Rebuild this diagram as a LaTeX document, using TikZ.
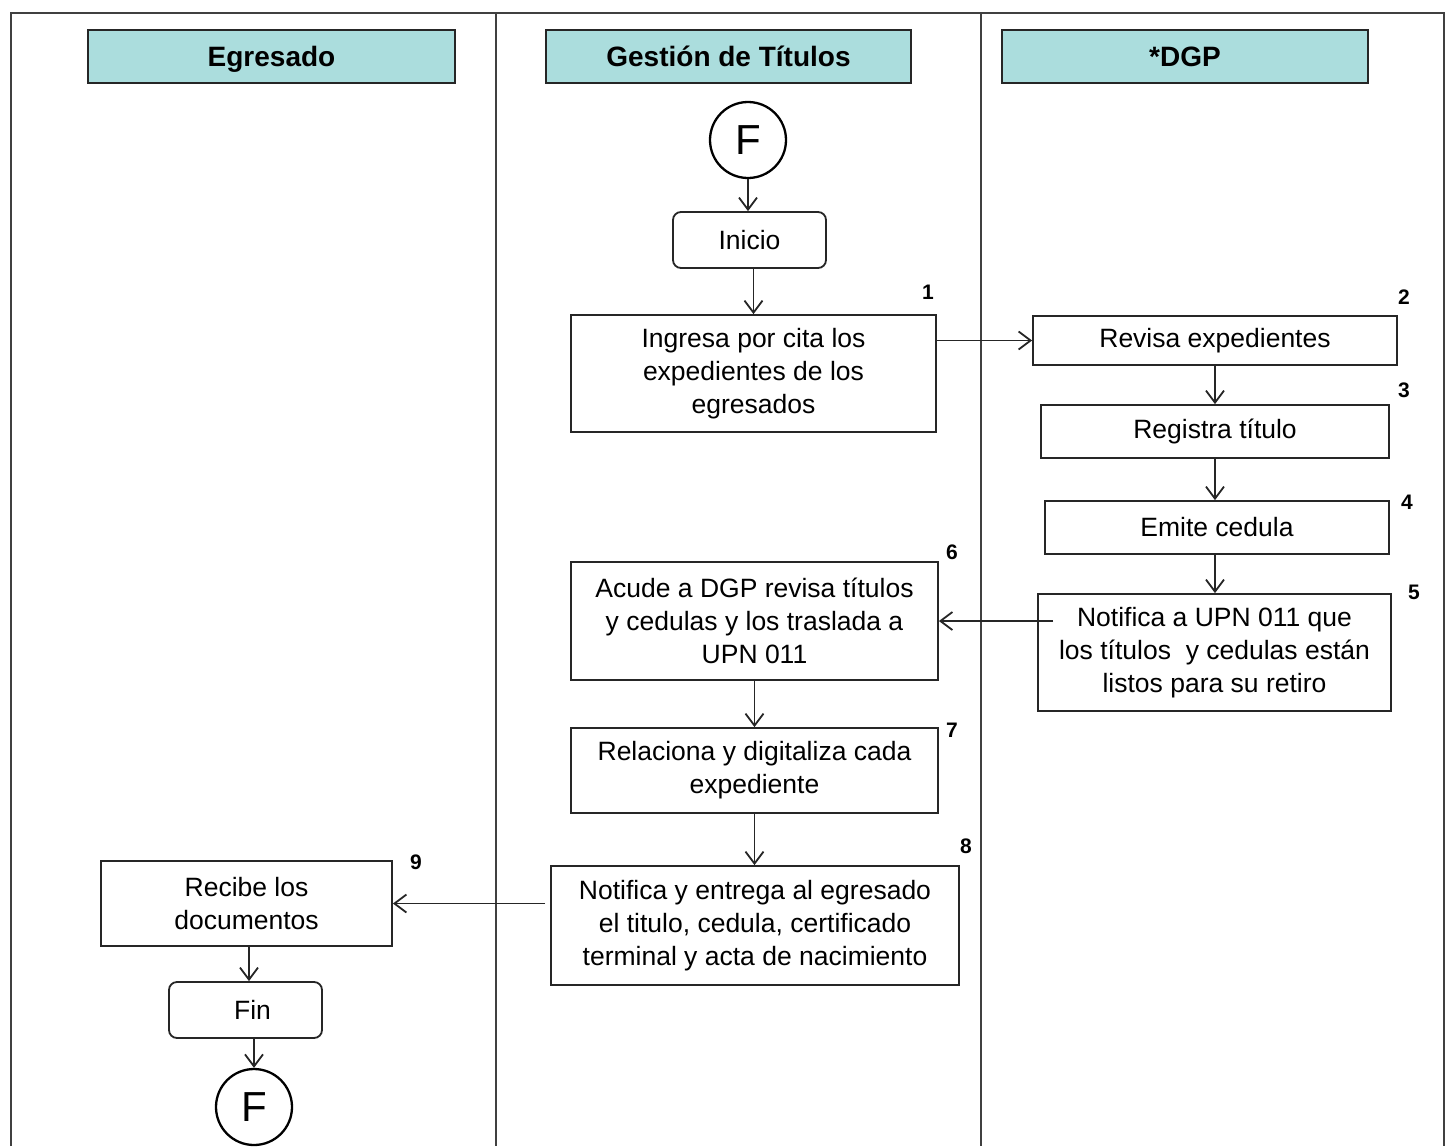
\documentclass[tikz,border=0pt]{standalone}
\usepackage{fontspec}
\setmainfont{Liberation Sans}
\usetikzlibrary{arrows.meta,calc}
\definecolor{lanefill}{RGB}{171,221,221}
\tikzset{
  lane/.style={draw=black!75, line width=1.8pt},
  hdr/.style={draw=black!85, fill=lanefill, line width=1.7pt, minimum height=53pt,
    inner sep=0pt, text height=20pt, text depth=0pt,
    font=\fontsize{28}{32}\selectfont\bfseries},
  task/.style={draw=black!85, line width=1.8pt, inner sep=0pt, align=center,
    font=\fontsize{26.5}{33}\selectfont},
  term/.style={task, rounded corners=8pt},
  circ/.style={circle, draw=black, line width=2.3pt, minimum size=76pt, inner sep=0pt,
    font=\fontsize{42}{42}\selectfont},
  num/.style={font=\fontsize{21}{21}\selectfont\bfseries, inner sep=0pt},
  arr/.style={draw=black!85, line width=1.8pt, -{Straight Barb[length=12pt,width=18pt]}}
}
\begin{document}
\begin{tikzpicture}[x=1pt,y=-1pt]
\useasboundingbox (0,0) rectangle (1445,1146);
\fill[white] (0,0) rectangle (1445,1146);

% swimlane frame
\draw[lane] (11,1146) -- (11,13) -- (1444,13) -- (1444,1146);
\draw[lane] (496,13) -- (496,1146);
\draw[lane] (981,13) -- (981,1146);

% lane headers
\node[hdr, minimum width=367pt] (h1) at (271.5,56.5) {Egresado};
\node[hdr, minimum width=365pt] (h2) at (728.5,56.5) {Gestión de Títulos};
\node[hdr, minimum width=366pt] (h3) at (1185,56.5) {*DGP};

% process steps
\node[circ] (fs) at (748,140) {F};
\node[term, minimum width=153pt, minimum height=56pt] (ini) at (749.5,240) {Inicio};
\node[task, minimum width=365pt, minimum height=117pt] (b1) at (753.5,373.5)
  {\raisebox{0pt}[\height][\depth]{}Ingresa por cita los\\expedientes de los\\egresados};
\node[task, minimum width=364pt, minimum height=49pt] (b2) at (1215,340.5) {Revisa expedientes};
\node[task, minimum width=348pt, minimum height=53pt] (b3) at (1215,431.5) {Registra título};
\node[task, minimum width=344pt, minimum height=53pt] (b4) at (1217,527.5) {Emite cedula};
\node[task, minimum width=353pt, minimum height=117pt] (b5) at (1214.5,652.5)
  {Notifica a UPN 011 que\\los títulos\ \ y cedulas están\\listos para su retiro};
\node[task, minimum width=367pt, minimum height=118pt] (b6) at (754.5,621)
  {Acude a DGP revisa títulos\\y cedulas y los traslada a\\UPN 011};
\node[task, minimum width=367pt, minimum height=85pt] (b7) at (754.5,770.5)
  {Relaciona y digitaliza cada\\expediente};
\node[task, minimum width=408pt, minimum height=119pt] (b8) at (755,925.5)
  {Notifica y entrega al egresado\\el titulo, cedula, certificado\\terminal y acta de nacimiento};
\node[task, minimum width=291pt, minimum height=85pt] (b9) at (246.5,903.5)
  {Recibe los\\documentos};
\node[term, minimum width=153pt, minimum height=56pt] (fin) at (245.5,1010) {\hspace*{14pt}Fin};
\node[circ] (fe) at (254,1107) {F};

% step numbers
\node[num] (n1) at (928,292) {1};
\node[num] (n2) at (1404,297) {2};
\node[num] (n3) at (1404,390) {3};
\node[num] (n4) at (1407,502) {4};
\node[num] (n5) at (1414,592) {5};
\node[num] (n6) at (952,552) {6};
\node[num] (n7) at (952,730) {7};
\node[num] (n8) at (966,846) {8};
\node[num] (n9) at (416,862) {9};

% connectors
\draw[arr] (fs.south) -- (fs.south |- ini.north);
\draw[arr] (b1.north |- ini.south) -- (b1.north);
\draw[arr] (b1.east |- b2.west) -- (b2.west);
\draw[arr] (b2.south) -- (b2.south |- b3.north);
\draw[arr] (b3.south) -- (b3.south |- b4.north);
\draw[arr] ([xshift=-2pt]b4.south) -- ([xshift=-2pt]b4.south |- b5.north);
\coordinate (s5) at ($(b5.west |- b6.east)+(16,0)$);
\draw[arr] (s5) -- (b6.east);
\draw[arr] (b6.south) -- (b6.south |- b7.north);
\draw[arr] (b7.south) -- (b7.south |- b8.north);
\coordinate (s8) at ($(b8.west |- b9.east)+(-5,0)$);
\draw[arr] (s8) -- (b9.east);
\draw[arr] ([xshift=2.5pt]b9.south) -- ([xshift=2.5pt]b9.south |- fin.north);
\draw[arr] (fe.north |- fin.south) -- (fe.north);
\end{tikzpicture}
\end{document}
